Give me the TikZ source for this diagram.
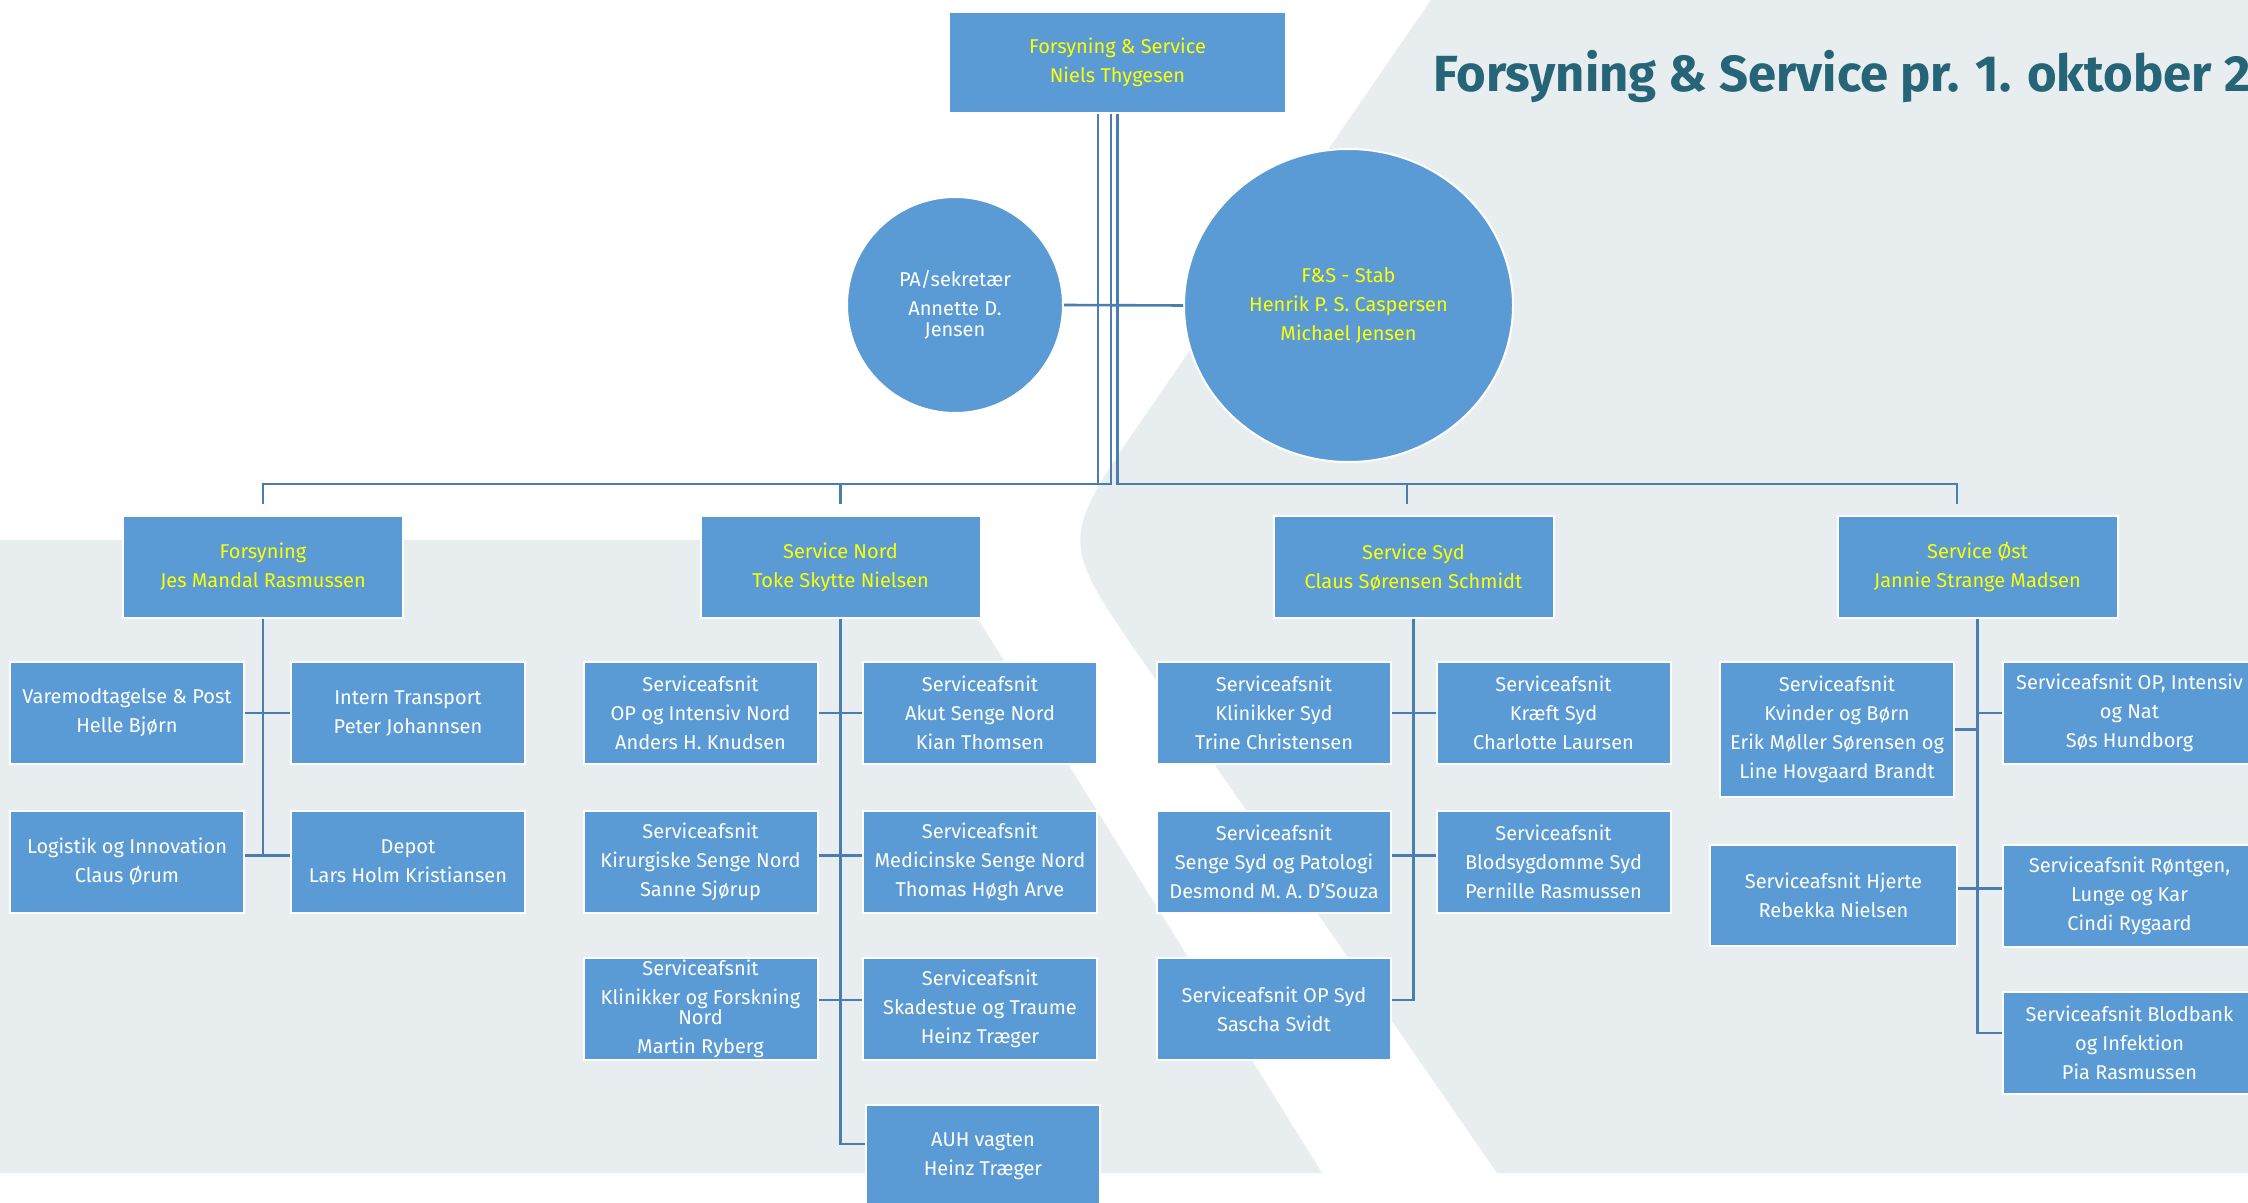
\documentclass[tikz,border=0pt]{standalone}
\usepackage{fontspec}
\setmainfont{Fira Sans}
\usetikzlibrary{shapes.geometric}
\definecolor{boxblue}{HTML}{5B9BD5}
\definecolor{conblue}{HTML}{4A7EB0}
\definecolor{bggray}{HTML}{E8EDF0}
\definecolor{headyellow}{HTML}{FFFF00}
\definecolor{titleteal}{HTML}{266577}
\newcommand{\boxfont}{\fontsize{10}{14.5}\selectfont}
\newcommand{\titlefont}{\fontsize{25.4}{30}\selectfont\bfseries}
\begin{document}
\begin{tikzpicture}[x=0.5pt,y=-0.5pt,
  box/.style={rectangle, fill=boxblue, draw=white, line width=1pt, inner sep=0pt,
    align=center, text=white, font=\boxfont, minimum width=117pt, minimum height=51pt},
  head/.style={box, text=headyellow, minimum width=140pt},
  rbox/.style={box, minimum width=126.5pt},
  con/.style={draw=conblue, line width=1.3pt},
]
\useasboundingbox (0,0) rectangle (2248,1203);
\fill[white] (0,0) rectangle (2248,1203);
% background shapes
\fill[bggray] (0,540) -- (929,540) -- (1322,1173) -- (0,1173) -- cycle;
\fill[bggray] (1431,0) -- (1142,420) .. controls (1059,541) .. (1147,667)
  -- (1497,1173) -- (2248,1173) -- (2248,0) -- cycle;
\begin{scope}
\clip (0,0) rectangle (2248,1203);
% title
\node[anchor=base west, text=titleteal, font=\titlefont, inner sep=0pt] (title)
  at (1433,92) {Forsyning \& Service pr. 1. oktober 2};
% top level
\node[head, minimum width=168.5pt, minimum height=50.5pt] (top) at (1117.5,62.5)
  {Forsyning \& Service\\Niels Thygesen};
\node[circle, fill=boxblue, draw=white, line width=1pt, minimum size=108pt, inner sep=0pt,
  align=center, text=white, font=\boxfont] (pa) at (955,305)
  {PA/sekretær\\Annette D.\\[-4pt]Jensen};
\node[ellipse, fill=boxblue, draw=white, line width=1pt, minimum width=164.5pt,
  minimum height=156.5pt, inner sep=0pt, align=center, text=headyellow, font=\boxfont]
  (stab) at (1348.5,305.5) {F\&S - Stab\\Henrik P. S. Caspersen\\Michael Jensen};
% level 2
\node[head] (fors) at (263,567) {Forsyning\\Jes Mandal Rasmussen};
\node[head] (nord) at (840.5,567) {Service Nord\\Toke Skytte Nielsen};
\node[head] (syd) at (1413.5,567) {Service Syd\\Claus Sørensen Schmidt};
\node[head] (ost) at (1977.5,567) {Service Øst\\Jannie Strange Madsen};
% Forsyning children
\node[box] (vare) at (127,713) {Varemodtagelse \& Post\\Helle Bjørn};
\node[box] (intern) at (408,713) {Intern Transport\\Peter Johannsen};
\node[box] (logistik) at (127,861.5) {Logistik og Innovation\\Claus Ørum};
\node[box] (depot) at (408,861.5) {Depot\\Lars Holm Kristiansen};
% Nord children
\node[box] (opn) at (700.5,713) {Serviceafsnit\\OP og Intensiv Nord\\Anders H. Knudsen};
\node[box] (akut) at (980,713) {Serviceafsnit\\Akut Senge Nord\\Kian Thomsen};
\node[box] (kir) at (700.5,861.5) {Serviceafsnit\\Kirurgiske Senge Nord\\Sanne Sjørup};
\node[box] (med) at (980,861.5) {Serviceafsnit\\Medicinske Senge Nord\\Thomas Høgh Arve};
\node[box] (klin) at (700.5,1009) {Serviceafsnit\\Klinikker og Forskning\\[-4.5pt]Nord\\Martin Ryberg};
\node[box] (skad) at (980,1009) {Serviceafsnit\\Skadestue og Traume\\Heinz Træger};
\node[box] (auh) at (983,1156) {AUH vagten\\Heinz Træger};
% Syd children
\node[box] (ks) at (1274,713) {Serviceafsnit\\Klinikker Syd\\Trine Christensen};
\node[box] (kraeft) at (1553.5,713) {Serviceafsnit\\Kræft Syd\\Charlotte Laursen};
\node[box] (senge) at (1274,861.5) {Serviceafsnit\\Senge Syd og Patologi\\Desmond M. A. D'Souza};
\node[box] (blod) at (1553.5,861.5) {Serviceafsnit\\Blodsygdomme Syd\\Pernille Rasmussen};
\node[box] (ops) at (1274,1009) {Serviceafsnit OP Syd\\Sascha Svidt};
% Ost children
\node[box, minimum height=67.5pt] (kvinder) at (1837,729.5)
  {Serviceafsnit\\Kvinder og Børn\\Erik Møller Sørensen og\\Line Hovgaard Brandt};
\node[rbox] (opi) at (2129.5,713) {Serviceafsnit OP, Intensiv\\og Nat\\Søs Hundborg};
\node[box, minimum width=123.5pt, minimum height=50.5pt] (hjerte) at (1833.5,895.5)
  {Serviceafsnit Hjerte\\Rebekka Nielsen};
\node[rbox] (rontgen) at (2129.5,895.5) {Serviceafsnit Røntgen,\\Lunge og Kar\\Cindi Rygaard};
\node[rbox] (blodbank) at (2129.5,1042.5) {Serviceafsnit Blodbank\\og Infektion\\Pia Rasmussen};
\end{scope}
% connectors from top
\coordinate (bus) at (0,484);
\coordinate (t1) at ([xshift=-9.75pt]top.south);
\coordinate (t2) at ([xshift=-3.25pt]top.south);
\coordinate (t3) at (top.south);
\coordinate (dsyd) at ([xshift=-3.25pt,yshift=5.5pt]syd.north);
\coordinate (dost) at ([xshift=-10.25pt,yshift=5.5pt]ost.north);
\draw[con] (t1) -- (t1 |- bus) -| ([yshift=5.5pt]fors.north);
\draw[con] (t2) -- (t2 |- bus) -| ([yshift=5.5pt]nord.north);
\draw[con] (t3) -- (t3 |- bus) -| (dsyd);
\draw[con] (t3 |- bus) -| (dost);
\draw[con] (pa.east) -- (stab.west);
% Forsyning
\coordinate (cLog) at ([yshift=3pt]logistik.east);
\draw[con] (fors.south) -- (fors.south |- cLog);
\draw[con] (vare.east) -- (intern.west);
\draw[con] (cLog) -- (cLog -| depot.west);
% Nord
\coordinate (cKir) at ([yshift=3pt]kir.east);
\coordinate (cKlin) at ([yshift=4.5pt]klin.east);
\coordinate (cAuh) at ([yshift=6pt]auh.west);
\draw[con] (nord.south) -- (nord.south |- cAuh) -- (cAuh);
\draw[con] (opn.east) -- (akut.west);
\draw[con] (cKir) -- (cKir -| med.west);
\draw[con] (cKlin) -- (cKlin -| skad.west);
% Syd
\coordinate (cSenge) at ([yshift=3pt]senge.east);
\coordinate (cOps) at ([yshift=4.5pt]ops.east);
\draw[con] (syd.south) -- (syd.south |- cOps) -- (cOps);
\draw[con] (ks.east) -- (kraeft.west);
\draw[con] (cSenge) -- (cSenge -| blod.west);
% Ost
\coordinate (cBb) at ([yshift=4.75pt]blodbank.west);
\coordinate (cHj) at ([yshift=3.5pt]hjerte.east);
\draw[con] (ost.south) -- (ost.south |- cBb) -- (cBb);
\draw[con] (kvinder.east) -- (kvinder.east -| ost.south);
\draw[con] (opi.west) -- (opi.west -| ost.south);
\draw[con] (cHj) -- (cHj -| rontgen.west);
\end{tikzpicture}
\end{document}
